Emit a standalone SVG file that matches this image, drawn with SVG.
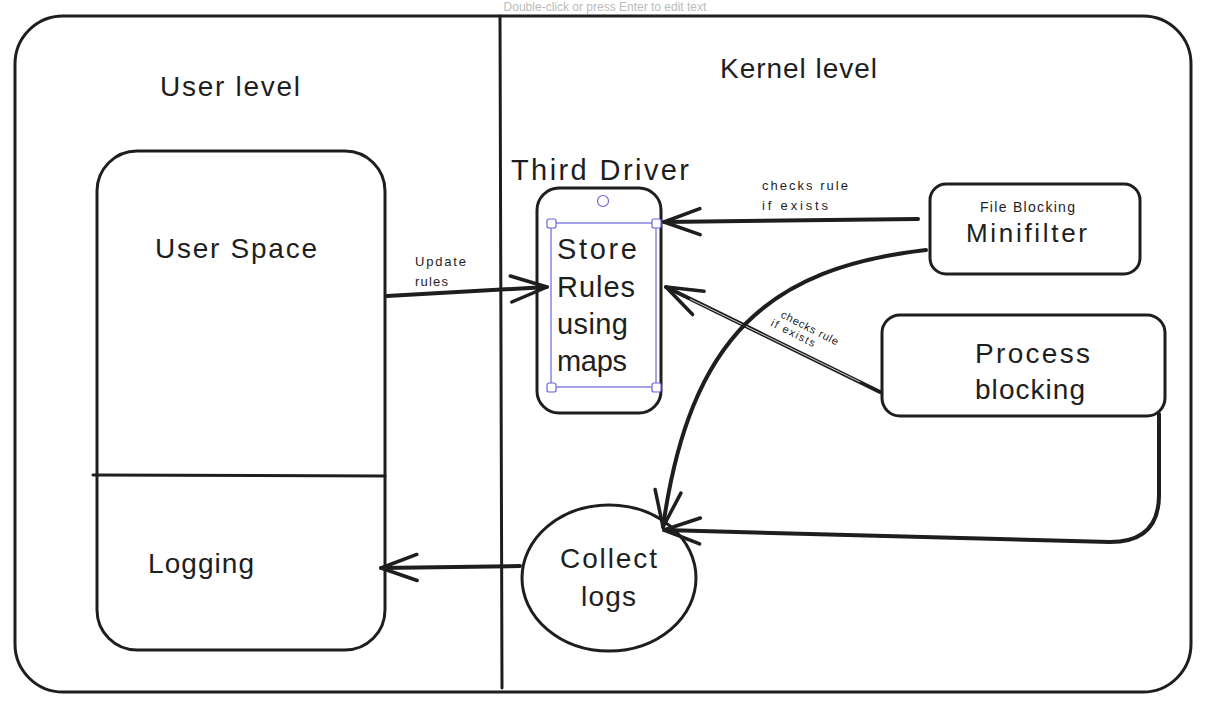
<svg xmlns="http://www.w3.org/2000/svg" width="1209" height="727" viewBox="0 0 1209 727">
<style>
.s{fill:none;stroke:#1e1e1e;stroke-width:3;stroke-linecap:round;stroke-linejoin:round}
.t{font-family:"Liberation Sans","DejaVu Sans",sans-serif;fill:#1e1e1e}
.sel{fill:none;stroke:#6965db;stroke-width:1.2}
.h{fill:#fff;stroke:#6965db;stroke-width:1.2}
.a{fill:none;stroke:#1e1e1e;stroke-width:4;stroke-linecap:round;stroke-linejoin:round}
</style>
<defs>
<marker id="arr" markerUnits="userSpaceOnUse" viewBox="-40 -20 44 40" refX="0" refY="0" markerWidth="44" markerHeight="40" orient="auto" overflow="visible">
<path d="M -36 -13 L 0 0 L -36 13" fill="none" stroke="#1e1e1e" stroke-width="3.5" stroke-linecap="round" stroke-linejoin="round"/>
</marker>
</defs>
<rect width="1209" height="727" fill="#fff"/>
<text x="605" y="11" text-anchor="middle" font-family="Liberation Sans, sans-serif" font-size="12" fill="#bbb">Double-click or press Enter to edit text</text>

<g id="frame">
<rect class="s" x="15" y="16" width="1176" height="676" rx="48" stroke-width="3.5"/>
<line class="s" x1="500" y1="16" x2="502" y2="688"/>
<text class="t" x="160" y="96" font-size="28" textLength="140">User level</text>
<text class="t" x="720" y="78" font-size="28" textLength="157">Kernel level</text>
</g>

<g id="user-space">
<rect class="s" x="97" y="151" width="288" height="499" rx="40"/>
<line class="s" x1="93" y1="475" x2="385" y2="476"/>
<text class="t" x="155" y="258" font-size="28" textLength="162">User Space</text>
<text class="t" x="148" y="573" font-size="28" textLength="106">Logging</text>
</g>

<g id="third-driver">
<text class="t" x="511" y="180" font-size="29" textLength="178">Third Driver</text>
<rect class="s" x="537" y="188" width="124" height="225" rx="22" stroke-width="3.5"/>
<rect class="sel" x="551" y="223" width="105" height="164"/>
<rect class="h" x="547" y="219" width="9" height="9" rx="2"/>
<rect class="h" x="652" y="219" width="9" height="9" rx="2"/>
<rect class="h" x="547" y="383" width="9" height="9" rx="2"/>
<rect class="h" x="652" y="383" width="9" height="9" rx="2"/>
<circle class="h" cx="603" cy="201" r="5.5"/>
<text class="t" x="557" y="259" font-size="29" textLength="80">Store</text>
<text class="t" x="557" y="297" font-size="29" textLength="78">Rules</text>
<text class="t" x="557" y="334" font-size="29" textLength="71">using</text>
<text class="t" x="557" y="371" font-size="29" textLength="70">maps</text>
</g>

<g id="minifilter">
<rect class="s" x="930" y="184" width="210" height="90" rx="16"/>
<text class="t" x="980" y="212" font-size="14" textLength="95">File Blocking</text>
<text class="t" x="966" y="242" font-size="26" textLength="121">Minifilter</text>
</g>

<g id="process-blocking">
<rect class="s" x="882" y="315" width="283" height="101" rx="18"/>
<text class="t" x="975" y="363" font-size="28" textLength="115">Process</text>
<text class="t" x="975" y="399" font-size="28" textLength="110">blocking</text>
</g>

<g id="collect-logs">
<ellipse class="s" cx="609" cy="578" rx="87" ry="73"/>
<text class="t" x="560" y="568" font-size="28" textLength="97">Collect</text>
<text class="t" x="581" y="606" font-size="28" textLength="55">logs</text>
</g>

<g id="connectors">
<path class="a" d="M 387 296 L 547 287" marker-end="url(#arr)"/>
<text class="t" x="415" y="266" font-size="13" textLength="51">Update</text>
<text class="t" x="415" y="286" font-size="13" textLength="33">rules</text>

<path class="a" d="M 918 219 L 664 222" marker-end="url(#arr)"/>
<text class="t" x="762" y="190" font-size="13" textLength="86">checks rule</text>
<text class="t" x="762" y="210" font-size="13" textLength="66">if exists</text>

<path class="a" d="M 880 392 L 666 287" marker-end="url(#arr)"/>
<path d="M 860 382 L 690 299" stroke="#fff" stroke-width="0.8" fill="none"/>
<g transform="translate(780,317) rotate(27)">
<text class="t" x="0" y="0" font-size="11" textLength="63">checks rule</text>
<text class="t" x="-5" y="12" font-size="11" textLength="48">if exists</text>
</g>

<path class="a" d="M 926 250 C 770 268 690 335 663 527" marker-end="url(#arr)"/>
<path class="a" d="M 1159 414 L 1159 495 Q 1159 542 1110 542 L 664 530" marker-end="url(#arr)"/>
<path class="a" d="M 520 566 L 381 568" marker-end="url(#arr)"/>
</g>
</svg>
